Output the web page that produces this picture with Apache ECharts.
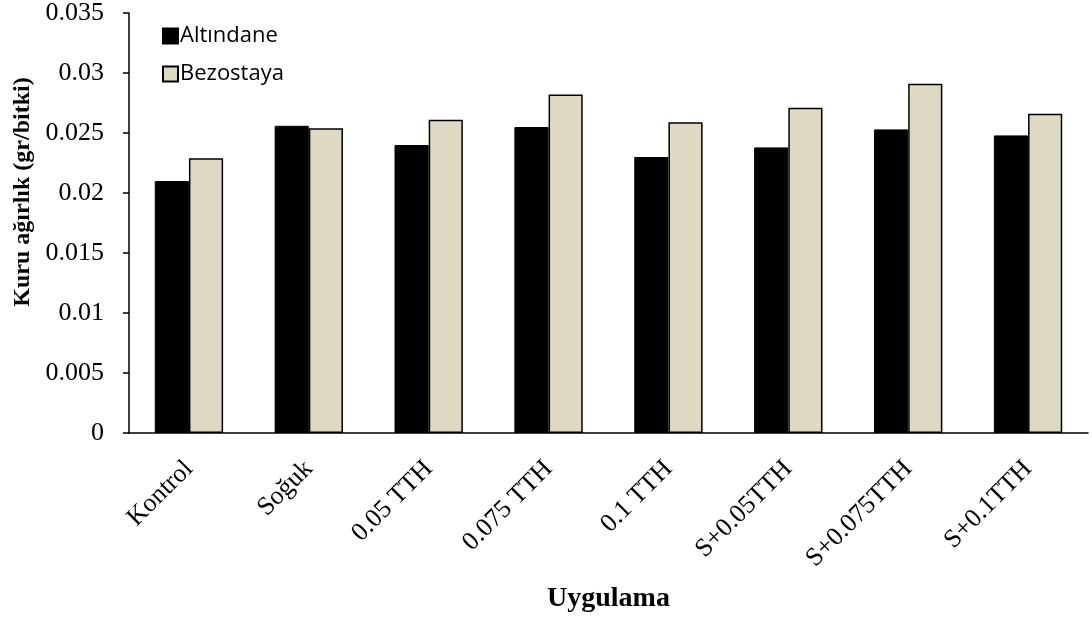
<!DOCTYPE html>
<html>
<head>
<meta charset="utf-8">
<script src="https://cdn.jsdelivr.net/npm/echarts@6/dist/echarts.min.js"></script>
<style>html,body{margin:0;padding:0;background:#fff;}#c{width:1092px;height:619px;}</style>
</head>
<body>
<div id="c"></div>
<script>
const categories = ['Kontrol', 'Soğuk', '0.05 TTH', '0.075 TTH', '0.1 TTH', 'S+0.05TTH', 'S+0.075TTH', 'S+0.1TTH'];
const altindane = [0.0210, 0.0256, 0.0240, 0.0255, 0.0230, 0.0238, 0.0253, 0.0248];
const bezostaya = [0.0229, 0.0254, 0.0261, 0.0282, 0.0259, 0.0271, 0.0291, 0.0266];
const seriesNames = ['Altındane', 'Bezostaya'];

const serif = '"Liberation Serif","Times New Roman",serif';
const chart = echarts.init(document.getElementById('c'), null, {renderer: 'canvas'});
chart.setOption({
  animation: false,
  backgroundColor: '#fff',
  grid: {left: 129, right: 4, top: 13, bottom: 186, containLabel: false, outerBoundsMode: 'none'},
  legend: {
    orient: 'vertical', left: 157, top: 20,
    itemWidth: 15, itemHeight: 15, itemGap: 16,
    icon: 'rect',
    textStyle: {fontFamily: '"Open Sans","Liberation Sans",sans-serif', fontSize: 22, color: '#000', padding: [0,0,0,-3]},
    data: seriesNames
  },
  xAxis: {
    type: 'category', data: categories,
    name: 'Uygulama', nameLocation: 'middle', nameGap: 152,
    nameTextStyle: {fontFamily: serif, fontWeight: 'bold', fontSize: 28, color: '#000'},
    axisLine: {lineStyle: {color: '#000', width: 1.5}},
    axisTick: {show: false},
    axisLabel: {rotate: 45, margin: 32, fontFamily: serif, fontSize: 26, color: '#000', interval: 0}
  },
  yAxis: {
    type: 'value', min: 0, max: 0.035, interval: 0.005,
    name: 'Kuru ağırlık (gr/bitki)', nameLocation: 'middle', nameGap: 92, nameRotate: 90,
    nameTextStyle: {fontFamily: serif, fontWeight: 'bold', fontSize: 24, color: '#000', padding: [0, 0, 0, 62]},
    axisLine: {show: true, lineStyle: {color: '#000', width: 1.5}},
    axisTick: {show: true, length: 6, lineStyle: {color: '#000', width: 1.5}},
    splitLine: {show: false},
    axisLabel: {margin: 25, fontFamily: serif, fontSize: 26, color: '#000',
      formatter: v => String(parseFloat(v.toFixed(4)))}
  },
  series: [
    {name: seriesNames[0], type: 'bar', data: altindane, barGap: '0%', barCategoryGap: '43%',
     itemStyle: {color: '#000', borderColor: '#000', borderWidth: 1}},
    {name: seriesNames[1], type: 'bar', data: bezostaya,
     itemStyle: {color: '#ddd9c3', borderColor: '#000', borderWidth: 1.5}}
  ]
});
</script>
</body>
</html>
